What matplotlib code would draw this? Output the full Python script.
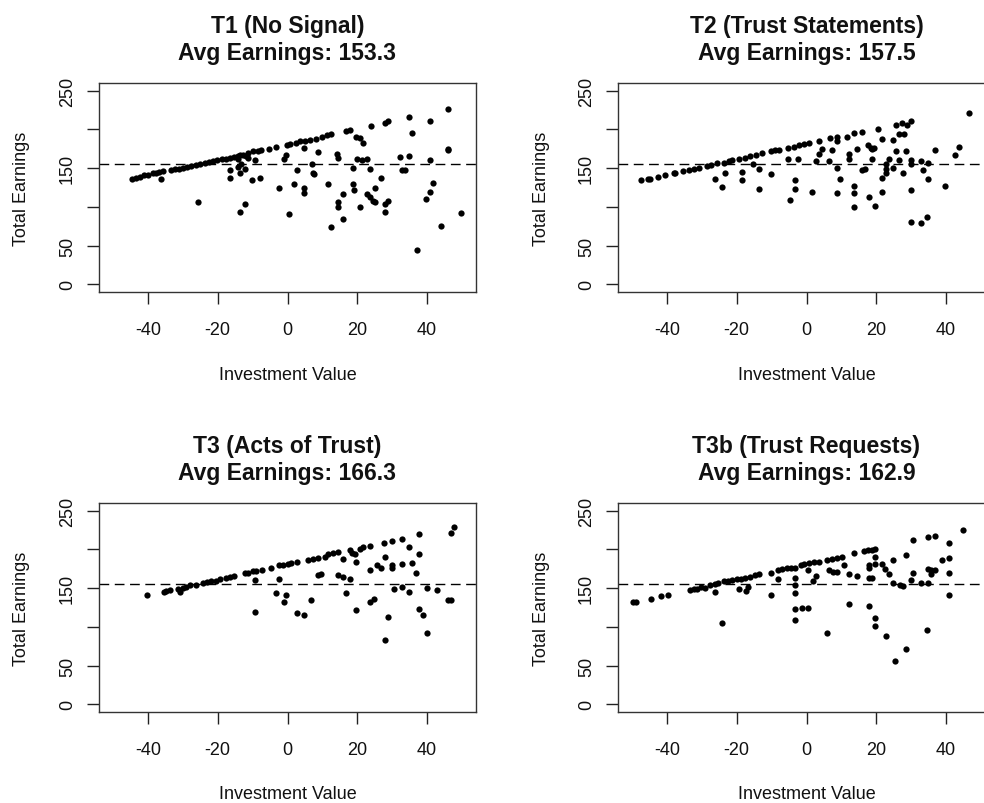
import numpy as np
import matplotlib
matplotlib.use("Agg")
import matplotlib.pyplot as plt

plt.rcParams['font.family'] = ['Liberation Sans', 'DejaVu Sans']
plt.rcParams['axes.unicode_minus'] = False

# ---- data ----
titles = ["T1 (No Signal)\nAvg Earnings: 153.3",
          "T2 (Trust Statements)\nAvg Earnings: 157.5",
          "T3 (Acts of Trust)\nAvg Earnings: 166.3",
          "T3b (Trust Requests)\nAvg Earnings: 162.9"]

ref_line = 155.8

t1_x = [-44.5, -43.3, -42.2, -41.0, -40.0, -38.4, -37.6, -36.7, -35.7, -33.5, -32.3, -31.1,
        -30.0, -28.8, -27.6, -26.3, -25.2, -23.7, -22.5, -21.3, -20.2, -18.9, -17.5, -16.6,
        -15.4, -14.2, -12.7, -11.3, -9.9, -8.4, -7.5, -5.3, -3.3, -0.1, 0.7, 2.4, 3.7, 5.0,
        6.4, 8.3, 9.8, 11.2, 12.6,
        -36.2, -25.6, -16.4, -16.4, -14.2, -14.2, -13.7, -13.5, -13.2, -12.2, -13.5, -12.2,
        -11.8, -11.3, -10.1, -9.4, -7.9, -2.4, -1.1, -0.3, 0.5, 1.8, 2.8, 4.7, 4.7, 4.7,
        6.9, 7.2, 7.6, 8.8, 11.7, 12.6, 14.1, 14.5, 14.5, 14.5, 15.8, 16.0, 16.9, 17.9,
        18.9, 18.9, 19.0, 19.5, 20.9, 19.8, 21.2, 22.7, 21.7, 20.8, 22.9, 23.6, 24.6, 25.1,
        23.6, 23.8, 25.1, 26.7, 27.9, 28.7, 27.9, 28.7, 27.9, 32.1, 32.7, 33.7, 34.8, 34.9,
        35.6, 37.0, 39.7, 40.7, 41.8, 40.7, 40.7, 43.9, 46.1, 46.1, 46.1, 49.8]
t1_y = [136.6, 137.4, 138.7, 140.8, 141.7, 143.4, 143.8, 145.1, 146.0, 147.7, 148.5, 149.4,
        150.7, 151.5, 152.8, 154.1, 155.4, 157.1, 158.0, 159.2, 160.5, 161.4, 162.2, 163.1,
        164.0, 165.6, 167.4, 169.9, 171.6, 172.5, 173.3, 175.1, 176.8, 180.2, 181.5, 182.8,
        184.5, 185.4, 186.2, 187.9, 190.5, 192.2, 194.3,
        136.6, 106.6, 147.7, 137.8, 152.0, 161.4, 166.5, 143.4, 155.0, 149.4, 93.8, 103.2,
        165.7, 162.5, 134.4, 160.5, 137.8, 125.0, 161.4, 166.5, 90.8, 128.9, 147.7, 176.4,
        125.0, 117.3, 155.0, 143.4, 142.1, 171.2, 128.9, 73.6, 167.8, 163.5, 106.6, 99.3,
        116.4, 84.3, 197.8, 199.1, 150.7, 128.9, 122.0, 190.5, 189.2, 161.4, 160.5, 161.4,
        182.8, 99.3, 116.4, 112.2, 107.9, 105.7, 149.4, 205.0, 125.0, 137.8, 208.5, 210.6,
        103.6, 107.9, 93.8, 164.4, 147.7, 147.7, 215.7, 165.7, 195.6, 43.7, 110.0, 119.4,
        130.6, 210.6, 160.5, 75.8, 226.9, 175.1, 173.4, 92.0]

t2_x = [-47.5, -45.3, -44.8, -42.6, -40.5, -38.1, -37.6, -35.5, -33.8, -32.3, -30.9, -28.5,
        -27.3, -25.6, -23.7, -22.3, -21.3, -19.2, -17.5, -16.1, -14.6, -12.7, -10.3, -8.9,
        -7.9, -5.3, -3.6, -2.2, -0.8, 0.7, 3.7, 6.6, 8.8, 11.7, 13.6, 15.8, 20.6, 25.6,
        27.5, 28.7, 29.9, 46.6,
        -26.3, -24.2, -23.4, -18.5, -18.5, -15.4, -13.7, -13.5, -10.3, -5.4, -4.6, -3.3,
        -3.3, -2.4, 1.6, 2.6, 3.7, 4.5, 6.4, 7.4, 8.8, 8.8, 8.8, 9.5, 12.2, 12.2, 13.6,
        13.6, 13.6, 14.5, 16.0, 16.7, 17.7, 18.4, 18.9, 19.3, 18.7, 17.9, 19.5, 21.5, 21.5,
        21.5, 22.7, 22.9, 22.7, 23.6, 24.8, 24.8, 25.6, 26.5, 26.5, 27.8, 27.7, 28.4, 29.9,
        29.9, 29.9, 29.9, 32.7, 32.7, 33.5, 34.6, 34.8, 34.8, 36.8, 39.7, 42.6, 43.7]
t2_y = [134.4, 136.6, 136.6, 138.3, 141.3, 143.4, 143.4, 146.0, 147.7, 149.0, 150.7, 152.8,
        154.1, 156.3, 157.1, 159.2, 160.1, 162.2, 163.5, 165.6, 166.9, 169.0, 171.6, 173.3,
        173.3, 175.9, 177.2, 179.3, 181.0, 182.8, 184.5, 188.4, 190.5, 190.1, 195.6, 197.3,
        201.2, 206.3, 208.5, 206.3, 210.6, 221.3,
        136.6, 125.4, 143.4, 145.1, 134.4, 155.0, 149.4, 123.7, 142.1, 162.2, 108.7, 134.4,
        123.7, 162.2, 119.4, 158.8, 167.8, 175.1, 158.8, 173.4, 184.9, 150.7, 117.7, 136.6,
        167.8, 161.4, 127.1, 117.7, 99.3, 175.1, 147.7, 149.4, 179.4, 176.4, 174.2, 176.4,
        162.2, 112.2, 101.5, 187.9, 137.8, 119.4, 155.0, 148.5, 143.4, 162.2, 186.2, 150.7,
        172.1, 160.5, 193.5, 193.5, 143.4, 172.1, 160.5, 155.0, 121.6, 80.9, 79.2, 158.8,
        147.7, 86.5, 156.3, 136.6, 173.4, 127.1, 167.4, 176.8]

t3_x = [-40.3, -35.5, -34.7, -33.6, -31.4, -30.7, -29.8, -29.0, -28.0, -26.3, -24.2, -23.1,
        -21.8, -20.6, -19.2, -17.5, -16.6, -15.4, -12.2, -11.3, -9.9, -9.1, -7.2, -4.6, -2.4,
        -1.2, 0.2, 1.1, 2.6, 5.9, 7.2, 8.8, 10.7, 11.7, 13.1, 14.5, 17.9, 18.4, 19.3, 20.8,
        21.7, 23.6, 27.7, 29.9, 32.8, 37.8, 46.8, 47.8,
        -9.4, -9.4, -3.2, -2.4, -1.1, -0.3, 2.6, 4.7, 6.6, 8.8, 9.5, 14.5, 15.8, 15.8, 16.7,
        17.9, 19.5, 19.5, 23.6, 23.6, 24.8, 25.7, 26.7, 27.8, 27.8, 28.7, 29.9, 29.9, 30.6,
        32.7, 32.8, 34.8, 34.8, 35.6, 36.8, 37.8, 37.8, 38.9, 39.9, 39.9, 42.8, 46.1, 46.8]
t3_y = [141.7, 145.1, 146.8, 147.7, 149.4, 145.1, 150.3, 152.0, 153.7, 154.5, 157.1, 158.0,
        159.2, 159.7, 161.4, 163.5, 164.4, 165.7, 169.1, 170.0, 171.7, 172.1, 173.4, 175.9,
        179.4, 180.2, 181.1, 181.9, 183.6, 185.8, 187.9, 189.2, 190.1, 193.5, 195.6, 196.5,
        199.9, 195.6, 193.5, 200.8, 203.3, 205.0, 208.5, 210.6, 213.6, 219.6, 221.3, 229.0,
        160.5, 119.4, 143.4, 162.2, 132.3, 141.7, 117.7, 115.6, 134.4, 166.5, 167.8, 166.5,
        164.8, 187.9, 143.4, 162.2, 184.1, 121.6, 173.4, 132.3, 136.6, 179.4, 176.4, 190.1,
        83.0, 112.2, 179.4, 176.4, 149.4, 180.6, 152.0, 202.9, 145.5, 182.8, 169.9, 193.5,
        123.7, 115.6, 150.7, 92.0, 147.7, 134.4, 134.4]

t3b_x = [-49.6, -48.9, -44.6, -41.7, -39.7, -33.5, -32.3, -31.4, -30.1, -29.0, -27.6, -26.3,
         -25.4, -23.7, -22.5, -21.3, -19.9, -18.7, -17.5, -16.1, -14.8, -13.7, -10.3, -8.1,
         -7.0, -5.6, -4.3, -3.2, -1.7, -0.8, 0.7, 2.1, 3.5, 5.9, 7.4, 8.8, 10.2, 13.6, 16.5,
         17.7, 18.9, 19.6, 24.9, 28.4, 30.5, 34.8, 36.8, 40.7, 44.7,
         -26.3, -24.2, -19.2, -17.3, -16.7, -10.3, -8.1, -3.2, -3.2, -3.2, -3.3, -3.2, -1.2,
         0.5, 0.5, 1.8, 2.6, 5.9, 6.4, 7.6, 8.8, 10.7, 12.3, 12.3, 14.5, 17.9, 17.9, 18.9,
         17.9, 17.9, 19.5, 19.5, 19.5, 19.5, 21.5, 22.5, 22.7, 23.6, 24.9, 26.7, 27.7, 25.4,
         28.6, 29.9, 30.5, 32.7, 34.8, 34.6, 34.8, 35.6, 36.8, 35.6, 38.8, 40.7, 40.7, 40.7]
t3b_y = [132.3, 132.3, 136.6, 140.0, 141.7, 147.7, 148.5, 149.4, 152.0, 150.7, 154.1, 155.0,
         156.3, 158.8, 159.7, 160.5, 161.4, 162.2, 163.1, 164.8, 166.5, 167.8, 169.1, 172.9,
         174.2, 175.5, 175.5, 176.4, 179.4, 180.7, 181.9, 183.6, 184.1, 186.2, 187.9, 189.2,
         190.5, 195.6, 197.8, 199.1, 199.9, 201.2, 186.2, 192.2, 211.9, 215.7, 217.9, 208.5,
         224.7,
         145.1, 104.9, 149.4, 146.4, 152.0, 141.7, 162.2, 163.5, 154.5, 143.4, 123.7, 108.7,
         125.0, 125.0, 173.4, 158.8, 165.7, 92.0, 173.4, 170.8, 170.8, 180.2, 167.8, 128.9,
         165.7, 127.1, 162.7, 162.7, 179.4, 176.4, 180.6, 190.1, 110.9, 101.5, 180.6, 175.1,
         88.6, 167.8, 157.1, 154.1, 152.8, 56.5, 71.5, 160.5, 169.9, 157.1, 156.3, 95.9,
         175.1, 173.4, 173.4, 167.8, 186.2, 189.2, 169.1, 141.7]

panels = [(t1_x, t1_y), (t2_x, t2_y), (t3_x, t3_y), (t3b_x, t3b_y)]

x_ticks = [-40, -20, 0, 20, 40]
y_ticks = [0, 50, 100, 150, 200, 250]
y_tick_labels = ["0", "50", "", "150", "", "250"]

# ---- layout (pixel boxes of the reference) ----
W, H = 984, 804
fig = plt.figure(figsize=(W / 100, H / 100), dpi=100)
boxes = [(99, 84), (618, 84), (99, 504), (618, 504)]
bw, bh = 377, 209

for i, (bx, by) in enumerate(boxes):
    ax = fig.add_axes([bx / W, 1 - (by + bh) / H, bw / W, bh / H])
    xs, ys = panels[i]
    ax.plot(xs, ys, 'o', color='black', markersize=4.5, markeredgewidth=0, clip_on=False)
    ax.axhline(ref_line, color='black', lw=1, linestyle=(0, (7, 4)))
    ax.set_xlim(-54, 54)
    ax.set_ylim(-10, 260)
    ax.set_xticks(x_ticks)
    ax.set_yticks(y_ticks)
    ax.set_yticklabels(y_tick_labels)
    ax.tick_params(axis='both', direction='out', length=8.6, width=1, colors='#222222',
                   labelsize=13, labelcolor='#111111')
    ax.tick_params(axis='x', pad=12)
    ax.tick_params(axis='y', pad=8, labelrotation=90)
    for lab in ax.get_yticklabels():
        lab.set_va('center')
    for sp in ax.spines.values():
        sp.set_color('#333333')
        sp.set_linewidth(1)
    ax.set_title(titles[i], fontsize=16.5, fontweight='bold', pad=17.5, linespacing=1.2,
                 color='#111111')
    ax.text(0.5, -82 / bh, "Investment Value", transform=ax.transAxes,
            ha='center', va='center', fontsize=13, color='#111111')
    ax.text(-77 / bw, 0.5, "Total Earnings", transform=ax.transAxes,
            ha='center', va='center', fontsize=13, rotation=90, color='#111111')

fig.savefig("out.png", dpi=100)
